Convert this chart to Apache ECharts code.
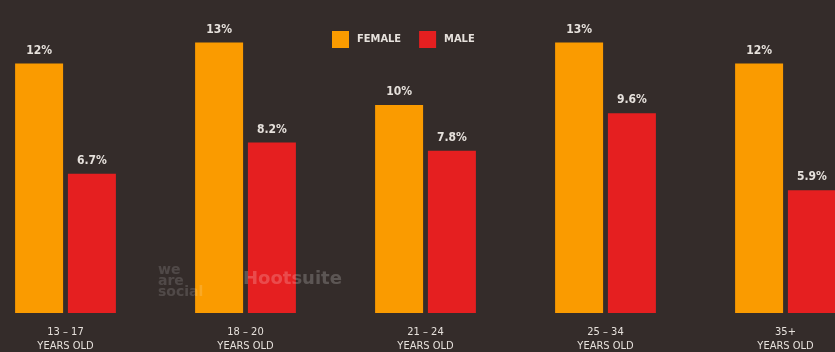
<!DOCTYPE html>
<html>
<head>
<meta charset="utf-8">
<script src="https://cdn.jsdelivr.net/npm/echarts@6/dist/echarts.min.js"></script>
<style>
  html, body { margin: 0; padding: 0; background: #342c2a; }
  #chart { width: 835px; height: 352px; }
</style>
</head>
<body>
<div id="chart"></div>
<script>
// Age groups and share of users by gender (%)
const categories = ['13 – 17', '18 – 20', '21 – 24', '25 – 34', '35+'];
const femaleValues = [12, 13, 10, 13, 12];
const maleValues = [6.7, 8.2, 7.8, 9.6, 5.9];
const femaleLabels = ['12%', '13%', '10%', '13%', '12%'];
const maleLabels = ['6.7%', '8.2%', '7.8%', '9.6%', '5.9%'];

const FONT = "'DejaVu Sans Condensed', 'Liberation Sans Narrow', 'Roboto', sans-serif";
const TEXT = '#e6e1dc';

const chart = echarts.init(document.getElementById('chart'));
chart.setOption({
  backgroundColor: '#342c2a',
  animation: false,
  legend: {
    top: 26,
    left: 327,
    itemWidth: 17,
    itemHeight: 17,
    itemGap: 18,
    icon: 'rect',
    textStyle: { color: TEXT, fontFamily: FONT, fontSize: 11, fontWeight: 'bold', padding: [0, 0, 0, 3] },
    data: ['FEMALE', 'MALE']
  },
  graphic: [
    {
      type: 'text', left: 158, top: 263, silent: true, z: 100,
      style: { text: 'we\nare\nsocial', fill: 'rgba(255,255,255,0.14)', font: "bold 14px 'DejaVu Sans'", lineHeight: 11 }
    },
    {
      type: 'text', left: 243, top: 270, silent: true, z: 100,
      style: { text: 'Hootsuite', fill: 'rgba(255,255,255,0.2)', font: "bold 18px 'DejaVu Sans'" }
    }
  ],
  grid: { left: -24.5, right: -40.5, top: 1, bottom: 39, containLabel: false, outerBoundsMode: 'none' },
  xAxis: {
    type: 'category',
    data: categories,
    axisLine: { show: false },
    axisTick: { show: false },
    axisLabel: {
      margin: 12,
      interval: 0,
      color: TEXT,
      fontFamily: FONT,
      fontSize: 11,
      lineHeight: 14,
      formatter: (v) => v + '\nYEARS OLD'
    }
  },
  yAxis: {
    type: 'value',
    min: 0,
    max: 15,
    show: false,
    splitLine: { show: false }
  },
  series: [
    {
      name: 'FEMALE',
      type: 'bar',
      data: femaleValues,
      barWidth: 48,
      barGap: '10%',
      itemStyle: { color: '#fa9b00' },
      label: {
        show: true, position: 'top', distance: 7,
        color: TEXT, fontFamily: FONT, fontSize: 12, fontWeight: 'bold',
        formatter: (p) => femaleLabels[p.dataIndex]
      }
    },
    {
      name: 'MALE',
      type: 'bar',
      data: maleValues,
      barWidth: 48,
      barGap: '10%',
      itemStyle: { color: '#e51f20' },
      label: {
        show: true, position: 'top', distance: 7,
        color: TEXT, fontFamily: FONT, fontSize: 12, fontWeight: 'bold',
        formatter: (p) => maleLabels[p.dataIndex]
      }
    }
  ]
});
</script>
</body>
</html>
